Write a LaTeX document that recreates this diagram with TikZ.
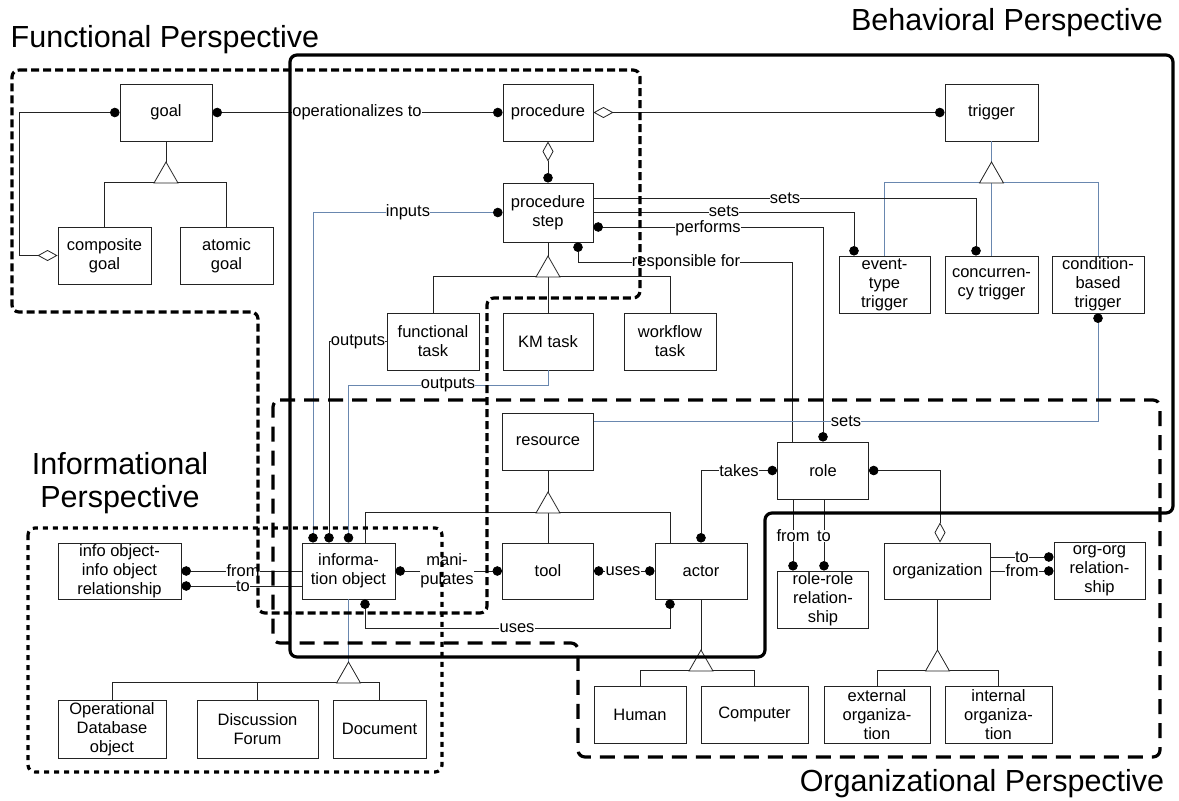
\documentclass[tikz,border=0pt]{standalone}
\usepackage{fontspec}
\setmainfont{Liberation Sans}
\usetikzlibrary{arrows.meta}

\definecolor{linec}{RGB}{35,35,35}
\definecolor{bluec}{RGB}{105,135,175}

\begin{document}
\begin{tikzpicture}[x=1pt,y=-1pt,
    every node/.style={font=\fontsize{16.5}{19}\selectfont},
    box/.style={draw=linec, line width=0.9pt, fill=white, align=center, inner sep=0pt, minimum width=92pt, minimum height=57pt},
    conn/.style={draw=linec, line width=0.8pt},
    lbl/.style={fill=white, inner sep=0.3pt, align=center},
    gentri/.style={draw=linec, fill=white, line width=0.8pt},
    dotend/.style={-{Circle[length=9.5pt, color=black]}},
    dotstart/.style={{Circle[length=9.5pt, color=black]}-},
    dotboth/.style={{Circle[length=9.5pt, color=black]}-{Circle[length=9.5pt, color=black]}},
    diadot/.style={{Diamond[open,length=20pt,width=11pt]}-{Circle[length=9.5pt, color=black]}},
    dotdia/.style={{Circle[length=9.5pt, color=black]}-{Diamond[open,length=20pt,width=11pt]}},
    persp/.style={line width=3.2pt, rounded corners=7pt},
    title/.style={font=\fontsize{30.5}{34}\selectfont}]
    \useasboundingbox (0,0) rectangle (1179,801);

    % Titles
    \node[title] (tfun) at (165,40) {Functional Perspective};
    \node[title] (tbeh) at (1007,23) {Behavioral Perspective};
    \node[title, align=center, font=\fontsize{30.5}{33}\selectfont] (tinf) at (120,483) {Informational\\Perspective};
    \node[title] (torg) at (982,784) {Organizational Perspective};

    % Functional and behavioral boxes
    \node[box] (goal) at (166,112.5) {goal};
    \node[box, minimum width=93pt] (compgoal) at (104.5,255.5) {composite\\goal};
    \node[box, minimum width=93pt] (atomgoal) at (226.5,255.5) {atomic\\goal};
    \node[box, minimum width=90pt] (proc) at (548,112.5) {procedure};
    \node[box, minimum width=90pt, minimum height=59pt] (pstep) at (548,212.5) {procedure\\step};
    \node[box, minimum width=93pt] (trigger) at (991.5,112.5) {trigger};
    \node[box, minimum width=91pt] (evtrig) at (884.5,284.5) {event-\\type\\trigger};
    \node[box, minimum width=93pt] (conctrig) at (991.5,284.5) {concurren-\\cy trigger};
    \node[box] (condtrig) at (1098,284.5) {condition-\\based\\trigger};
    \node[box] (functask) at (433,341.5) {functional\\task};
    \node[box, minimum width=90pt] (kmtask) at (548,341.5) {KM task};
    \node[box] (wftask) at (670,341.5) {workflow\\task};

    % Organizational boxes
    \node[box, minimum width=91pt] (resource) at (548,441.5) {resource};
    \node[box, minimum width=91pt] (role) at (823,470.5) {role};
    \node[box, minimum width=91pt, minimum height=56pt] (tool) at (548,571) {tool};
    \node[box, minimum height=56pt] (actor) at (701,571) {actor};
    \node[box, minimum width=106pt, minimum height=56pt] (organization) at (937.5,571) {organization};
    \node[box, minimum width=91pt] (orgorg) at (1099.5,571) {org-org\\relation-\\ship};
    \node[box, minimum width=91pt] (rolerole) at (823,599.5) {role-role\\relation-\\ship};
    \node[box] (human) at (640,714.5) {Human};
    \node[box, minimum width=107pt] (computer) at (754.5,714.5) {Computer};
    \node[box, minimum width=106pt] (extorg) at (877,714.5) {external\\organiza-\\tion};
    \node[box, minimum width=107pt] (intorg) at (998.5,714.5) {internal\\organiza-\\tion};

    % Informational boxes
    \node[box, minimum width=93pt, minimum height=56pt] (infoobj) at (348.5,571) {informa-\\tion object};
    \node[box, minimum width=123pt, minimum height=56pt] (ioio) at (119.5,571) {info object-\\info object\\relationship};
    \node[box, minimum width=108pt, minimum height=58pt] (opdb) at (112,729) {Operational\\Database\\object};
    \node[box, minimum width=121pt, minimum height=58pt] (discforum) at (257.5,729) {Discussion\\Forum};
    \node[box, minimum width=93pt, minimum height=58pt] (document) at (379.5,729) {Document};

    % Generalizations
    \draw[conn] (goal.south) -- ++(0,42);
    \draw[conn] (compgoal.north) -- ++(0,-44) -| (atomgoal.north);
    \draw[gentri] (166,162) -- ++(-12,21) -- ++(24,0) -- cycle;
    \draw[conn, draw=bluec] (conctrig.north) -- (trigger.south);
    \draw[conn, draw=bluec] (evtrig.north) -- ++(0,-73) -| (condtrig.north);
    \draw[gentri] (991.5,162) -- ++(-12,21) -- ++(24,0) -- cycle;
    \draw[conn] (kmtask.north) -- (pstep.south);
    \draw[conn] (functask.north) -- ++(0,-36) -| (wftask.north);
    \draw[gentri] (548,256) -- ++(-12,21) -- ++(24,0) -- cycle;
    \draw[conn] (tool.north) -- (resource.south);
    \draw[conn] ([xshift=16.5pt]infoobj.north) -- ++(0,-30) -| ([xshift=-31pt]actor.north);
    \draw[gentri] (548,492) -- ++(-12,21) -- ++(24,0) -- cycle;
    \draw[conn, draw=bluec] (infoobj.south) -- ++(0,84);
    \draw[conn] (opdb.north) -- ++(0,-17) -| (document.north);
    \draw[conn] (discforum.north) -- ++(0,-17);
    \draw[gentri] (348.5,662) -- ++(-12,21) -- ++(24,0) -- cycle;
    \draw[conn] (actor.south) -- ++(0,72);
    \draw[conn] (human.north) -- ++(0,-15) -| (computer.north);
    \draw[gentri] (701,650) -- ++(-12,21) -- ++(24,0) -- cycle;
    \draw[conn] (organization.south) -- ++(0,72);
    \draw[conn] (extorg.north) -- ++(0,-15) -| (intorg.north);
    \draw[gentri] (937.5,650) -- ++(-12,21) -- ++(24,0) -- cycle;

    % Associations
    \draw[conn, dotdia] (goal.west) -- ++(-100,0) |- (compgoal.west);
    \draw[conn, dotboth] (goal.east) -- (proc.west);
    \draw[conn, diadot] (proc.south) -- (pstep.north);
    \draw[conn, diadot] (proc.east) -- (trigger.west);
    \draw[conn, draw=bluec, dotboth] (pstep.west) -| ([xshift=-35.5pt]infoobj.north);
    \draw[conn, dotend] (functask.west) -| ([xshift=-19.5pt]infoobj.north);
    \draw[conn, draw=bluec, dotend] (kmtask.south) -- ++(0,15) -| (infoobj.north);
    \draw[conn, dotend] ([yshift=14.5pt]pstep.east) -| ([xshift=-15.5pt]conctrig.north);
    \draw[conn, dotend] (pstep.east) -| ([xshift=-30.5pt]evtrig.north);
    \draw[conn, dotboth] ([yshift=-14.5pt]pstep.east) -| (role.north);
    \draw[conn, dotstart] ([xshift=30pt]pstep.south) -- ++(0,20) -| ([xshift=-31pt]role.north);
    \draw[conn, draw=bluec, dotstart] (condtrig.south) |- ([yshift=20.5pt]resource.east);
    \draw[conn, dotboth] (role.west) -| (actor.north);
    \draw[conn, dotdia] (role.east) -| ([xshift=2.5pt]organization.north);
    \draw[conn, dotend] ([xshift=-30pt]role.south) -- ([xshift=-30pt]rolerole.north);
    \draw[conn, dotend] ([xshift=1pt]role.south) -- ([xshift=1pt]rolerole.north);
    \draw[conn, dotend] ([yshift=14pt]organization.east) -- ([yshift=14pt]orgorg.west);
    \draw[conn, dotend] (organization.east) -- (orgorg.west);
    \draw[conn, dotboth] (infoobj.east) -- (tool.west);
    \draw[conn, dotboth] (tool.east) -- (actor.west);
    \draw[conn, dotboth] ([xshift=16.5pt]infoobj.south) -- ++(0,29) -| ([xshift=-31pt]actor.south);
    \draw[conn, dotstart] (ioio.east) -- (infoobj.west);
    \draw[conn, dotstart] ([yshift=-15pt]ioio.east) -- ([yshift=-15pt]infoobj.west);

    % Association labels
    \node[lbl] (lop) at (357,112.5) {operationalizes to};
    \node[lbl] (lin) at (408,212.5) {inputs};
    \node[lbl] (lout1) at (358,341.5) {outputs};
    \node[lbl] (lout2) at (448,385) {outputs};
    \node[lbl] (lsets1) at (785,198) {sets};
    \node[lbl] (lsets2) at (724,211.5) {sets};
    \node[lbl] (lperf) at (708,228) {performs};
    \node[lbl] (lresp) at (686,262) {responsible for};
    \node[lbl] (lsets3) at (846,421) {sets};
    \node[lbl] (ltakes) at (739,470.5) {takes};
    \node[lbl] (lfrom1) at (793,536) {from};
    \node[lbl] (lto1) at (824,536) {to};
    \node[lbl] (lto2) at (1022,557) {to};
    \node[lbl] (lfrom2) at (1022,571) {from};
    \node[lbl] (lfrom3) at (243,571) {from};
    \node[lbl] (lto3) at (243,586) {to};
    \node[lbl] (lman) at (447,571) {mani-\\pulates};
    \node[lbl] (luses1) at (623,571) {uses};
    \node[lbl] (luses2) at (517,628) {uses};

    % Perspectives
    \draw[persp] (290,55) -- (1173,55) -- (1173,513) -- (765,513) -- (765,657) -- (290,657) -- cycle;
    \draw[persp, dash pattern=on 8pt off 4pt] (12,70) -- (640,70) -- (640,298) -- (487,298) -- (487,613) -- (258,613) -- (258,312) -- (12,312) -- cycle;
    \draw[persp, dash pattern=on 15pt off 9pt] (273,400) -- (1160,400) -- (1160,757) -- (578,757) -- (578,643) -- (273,643) -- cycle;
    \draw[persp, dash pattern=on 5pt off 5pt] (28,528) rectangle (442,772);
\end{tikzpicture}
\end{document}
